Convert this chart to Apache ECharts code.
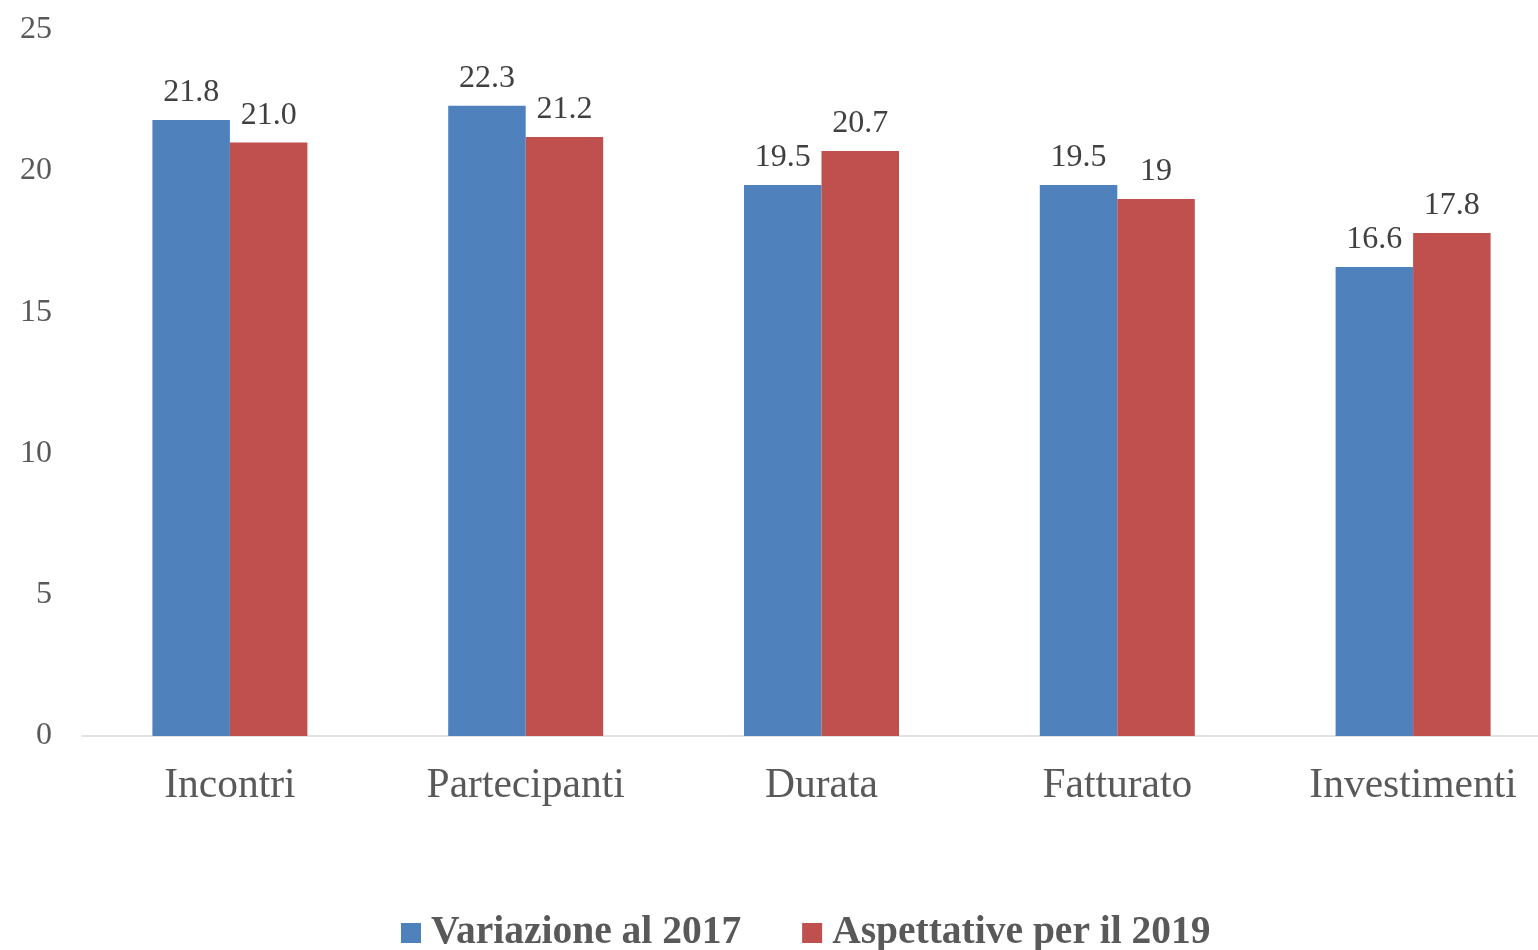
<!DOCTYPE html>
<html>
<head>
<meta charset="utf-8">
<script src="https://cdn.jsdelivr.net/npm/echarts@6/dist/echarts.min.js"></script>
<style>
  html, body { margin: 0; padding: 0; background: #fff; overflow: hidden; }
  /* the plot runs a little past the right edge of the picture */
  #main { width: 1561px; height: 950px; }
</style>
</head>
<body>
<div id="main"></div>
<script>
var categories = ["Incontri", "Partecipanti", "Durata", "Fatturato", "Investimenti"];
var values2017 = [21.8, 22.3, 19.5, 19.5, 16.6];
var values2019 = [21.0, 21.2, 20.7, 19, 17.8];
// labels as printed on the chart (some keep the ".0", some do not)
var labels2017 = ["21.8", "22.3", "19.5", "19.5", "16.6"];
var labels2019 = ["21.0", "21.2", "20.7", "19", "17.8"];

var fontFamily = "'Liberation Serif', 'Times New Roman', serif";

var chart = echarts.init(document.getElementById("main"));
var option = {
  animation: false,
  textStyle: { fontFamily: fontFamily },
  grid: { left: 82, right: 0, top: 29.5, bottom: 214 },
  legend: {
    top: 913,
    left: 401,
    padding: 0,
    itemWidth: 20,
    itemHeight: 20,
    itemGap: 61,
    icon: "rect",
    textStyle: {
      fontFamily: fontFamily,
      fontSize: 39.5,
      fontWeight: "bold",
      color: "#595959",
      padding: [0, 0, 0, 5]
    },
    data: ["Variazione al 2017", "Aspettative per il 2019"]
  },
  xAxis: {
    type: "category",
    data: categories,
    axisTick: { show: false },
    axisLine: { lineStyle: { color: "#D9D9D9", width: 1.5 } },
    axisLabel: { fontSize: 41.5, color: "#595959", margin: 29, fontFamily: fontFamily }
  },
  yAxis: {
    type: "value",
    min: 0,
    max: 25,
    interval: 5,
    splitLine: { show: false },
    axisLine: { show: false },
    axisTick: { show: false },
    axisLabel: { fontSize: 32, color: "#595959", margin: 30, fontFamily: fontFamily }
  },
  series: [
    {
      name: "Variazione al 2017",
      type: "bar",
      data: values2017,
      barWidth: 77.5,
      barGap: "0%",
      itemStyle: { color: "#4F81BD" },
      label: {
        show: true,
        position: "top",
        distance: 11,
        fontSize: 32,
        color: "#404040",
        fontFamily: fontFamily,
        formatter: function (p) { return labels2017[p.dataIndex]; }
      }
    },
    {
      name: "Aspettative per il 2019",
      type: "bar",
      data: values2019,
      barWidth: 77.5,
      barGap: "0%",
      itemStyle: { color: "#C0504D" },
      label: {
        show: true,
        position: "top",
        distance: 11,
        fontSize: 32,
        color: "#404040",
        fontFamily: fontFamily,
        formatter: function (p) { return labels2019[p.dataIndex]; }
      }
    }
  ]
};
chart.setOption(option);
</script>
</body>
</html>
